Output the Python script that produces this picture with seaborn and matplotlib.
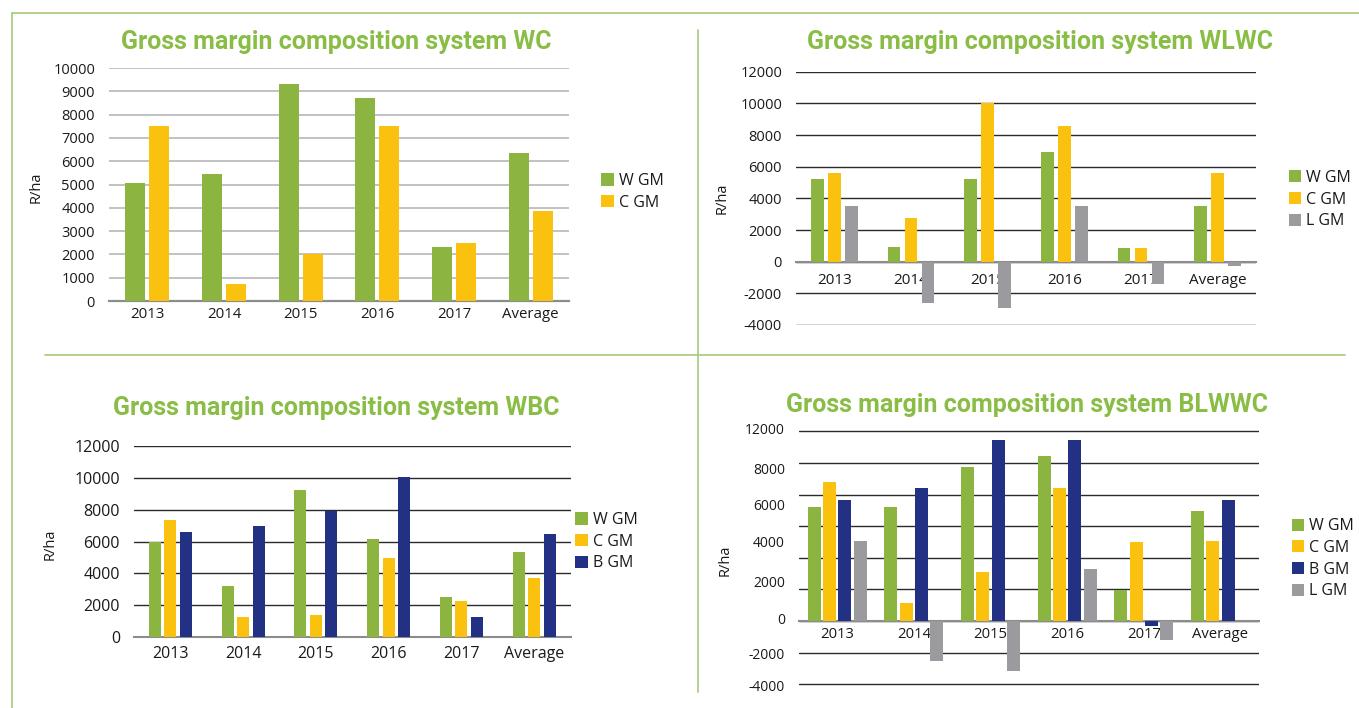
import matplotlib
matplotlib.use("Agg")
import matplotlib.pyplot as plt
import seaborn as sns
import pandas as pd
import numpy as np
from matplotlib.lines import Line2D
from matplotlib.ticker import FixedLocator, FixedFormatter, MultipleLocator

# ---------------- data ----------------
years = ["2013", "2014", "2015", "2016", "2017", "Average"]

wc_series = ["W GM", "C GM"]
wc_w = [5050, 5430, 9320, 8700, 2320, 6350]
wc_c = [7500, 710, 2000, 7500, 2490, 3870]

wlwc_series = ["W GM", "C GM", "L GM"]
wlwc_w = [5200, 950, 5200, 6900, 850, 3500]
wlwc_c = [5600, 2750, 10000, 8550, 850, 5600]
wlwc_l = [3500, -2600, -2950, 3500, -1400, -300]

wbc_series = ["W GM", "C GM", "B GM"]
wbc_w = [6000, 3200, 9250, 6150, 2500, 5350]
wbc_c = [7350, 1250, 1350, 4950, 2250, 3700]
wbc_b = [6600, 7000, 7950, 10050, 1250, 6450]

blwwc_series = ["W GM", "C GM", "B GM", "L GM"]
blwwc_w = [7200, 7200, 9750, 10450, 1950, 6950]
blwwc_c = [8800, 1150, 3100, 8400, 5000, 5050]
blwwc_b = [7650, 8400, 11450, 11450, -300, 7650]
blwwc_l = [5050, -2500, -3150, 3300, -1200, 0]

# tick labels as printed on the BLWWC chart
blwwc_ticklabels = ["12000", "8000", "6000", "4000", "2000", "0", "-2000", "-4000"]

titles = ["Gross margin composition system WC",
          "Gross margin composition system WLWC",
          "Gross margin composition system WBC",
          "Gross margin composition system BLWWC"]

# ---------------- style ----------------
GREEN = "#8BB440"
YELLOW = "#FAC10F"
NAVY = "#233185"
GREY = "#9B9A9F"
TITLE_GREEN = "#89BD45"
FRAME = "#A9CF84"
colors = {"W GM": GREEN, "C GM": YELLOW, "B GM": NAVY, "L GM": GREY}

sns.set_style("white")
plt.rcParams["font.family"] = ["Open Sans", "DejaVu Sans"]
plt.rcParams["axes.unicode_minus"] = False

W, H = 1359, 708
fig = plt.figure(figsize=(W / 100, H / 100), dpi=100)


def axes_px(x0, x1, ytop, ybot):
    return fig.add_axes([x0 / W, 1 - ybot / H, (x1 - x0) / W, (ybot - ytop) / H])


def draw(ax, series_names, series_vals, width, gap):
    df = pd.DataFrame({
        "Year": years * len(series_names),
        "Value": np.concatenate([np.asarray(v, float) for v in series_vals]),
        "Series": np.repeat(series_names, len(years)),
    })
    sns.barplot(data=df, x="Year", y="Value", hue="Series",
                palette={s: colors[s] for s in series_names},
                width=width, gap=gap, saturation=1, errorbar=None,
                linewidth=0, ax=ax)


def style(ax, grid_color, grid_lw, zero_color, zero_lw, xfs, yfs, xpad,
          ylab_xy, leg_xy, legfs=11.5):
    ax.set_xlabel("")
    ax.set_ylabel("R/ha", fontsize=10.5, color="#1a1a1a")
    ax.yaxis.set_label_coords(*ylab_xy)
    for s in ["top", "right", "left"]:
        ax.spines[s].set_visible(False)
    ax.spines["bottom"].set_position(("data", 0))
    ax.spines["bottom"].set_color(zero_color)
    ax.spines["bottom"].set_linewidth(zero_lw)
    ax.spines["bottom"].set_zorder(0.6)
    ax.tick_params(axis="both", which="both", length=0)
    ax.tick_params(axis="x", pad=xpad, labelsize=xfs, labelcolor="#1a1a1a")
    ax.tick_params(axis="y", pad=10, labelsize=yfs, labelcolor="#1a1a1a")
    ax.set_axisbelow(True)
    ax.yaxis.grid(True, color=grid_color, lw=grid_lw)
    h, l = ax.get_legend_handles_labels()
    leg = ax.legend(h, l, loc="center left",
                    bbox_to_anchor=(leg_xy[0] / W, 1 - leg_xy[1] / H),
                    bbox_transform=fig.transFigure, frameon=False, borderpad=0,
                    borderaxespad=0, handlelength=0.8, handleheight=0.8,
                    handletextpad=0.3, labelspacing=0.36, fontsize=legfs)
    for t in leg.get_texts():
        t.set_color("#1a1a1a")


# ---------- panel 1: WC ----------
ax1 = axes_px(109, 569, 68, 301)
draw(ax1, wc_series, [wc_w, wc_c], 0.626, 0.167)
ax1.set_ylim(0, 10000)
ax1.set_yticks(np.arange(0, 10001, 1000))
style(ax1, "#BDBDBD", 1.3, "#8C8C8C", 1.6, 10.8, 10.5, 4,
      (-0.142, 0.49), (601, 192))

# ---------- panel 2: WLWC ----------
ax2 = axes_px(796, 1256, 71.7, 325)
draw(ax2, wlwc_series, [wlwc_w, wlwc_c, wlwc_l], 0.668, 0.25)
ax2.set_ylim(-4000, 12000)
ax2.set_yticks(np.arange(-4000, 12001, 2000))
style(ax2, "#2B2B2B", 1.0, "#8C8C8C", 1.5, 11, 10.5, 8,
      (-0.144, 0.50), (1288.5, 199.5))

# ---------- panel 3: WBC ----------
ax3 = axes_px(134, 570.5, 446.3, 636.7)
draw(ax3, wbc_series, [wbc_w, wbc_c, wbc_b], 0.639, 0.226)
ax3.set_ylim(0, 12000)
ax3.set_yticks(np.arange(0, 12001, 2000))
style(ax3, "#2B2B2B", 1.0, "#8C8C8C", 1.5, 11.5, 11.5, 7,
      (-0.174, 0.487), (575, 541.7))

# ---------- panel 4: BLWWC ----------
ax4 = axes_px(799, 1258.7, 428.2, 686.6)
draw(ax4, blwwc_series, [blwwc_w, blwwc_c, blwwc_b, blwwc_l], 0.80, 0.15)
ax4.set_ylim(-4150, 12200)
ax4.yaxis.set_major_locator(FixedLocator([12150, 9680, 7400, 5000, 2530, 190, -2030, -4110]))
ax4.yaxis.set_major_formatter(FixedFormatter(blwwc_ticklabels))
ax4.yaxis.set_minor_locator(MultipleLocator(2000))
style(ax4, "#2B2B2B", 1.0, "#8C8C8C", 1.5, 10.7, 10, 4,
      (-0.144, 0.49), (1291.5, 558.8))
ax4.yaxis.grid(False, which="major")
ax4.yaxis.grid(True, which="minor", color="#2B2B2B", lw=1.0)

# ---------- titles ----------
title_pos = [(336.5, 49), (1040, 49), (336.5, 415), (1027, 411.7)]
for t, (x, y) in zip(titles, title_pos):
    fig.text(x / W, 1 - y / H, t, ha="center", va="baseline",
             color=TITLE_GREEN, fontsize=18, fontweight="bold",
             family=["Roboto", "DejaVu Sans"])


# ---------- frame lines ----------
def fline(x0, y0, x1, y1):
    fig.add_artist(Line2D([x0 / W, x1 / W], [1 - y0 / H, 1 - y1 / H],
                          transform=fig.transFigure, color=FRAME, lw=1.3))


fline(12, 13.3, W, 13.3)
fline(12, 13.3, 12, H)
fline(697.7, 30, 697.7, 692)
fline(44.6, 354.7, 1345, 354.7)

fig.savefig("out.png", dpi=100)
